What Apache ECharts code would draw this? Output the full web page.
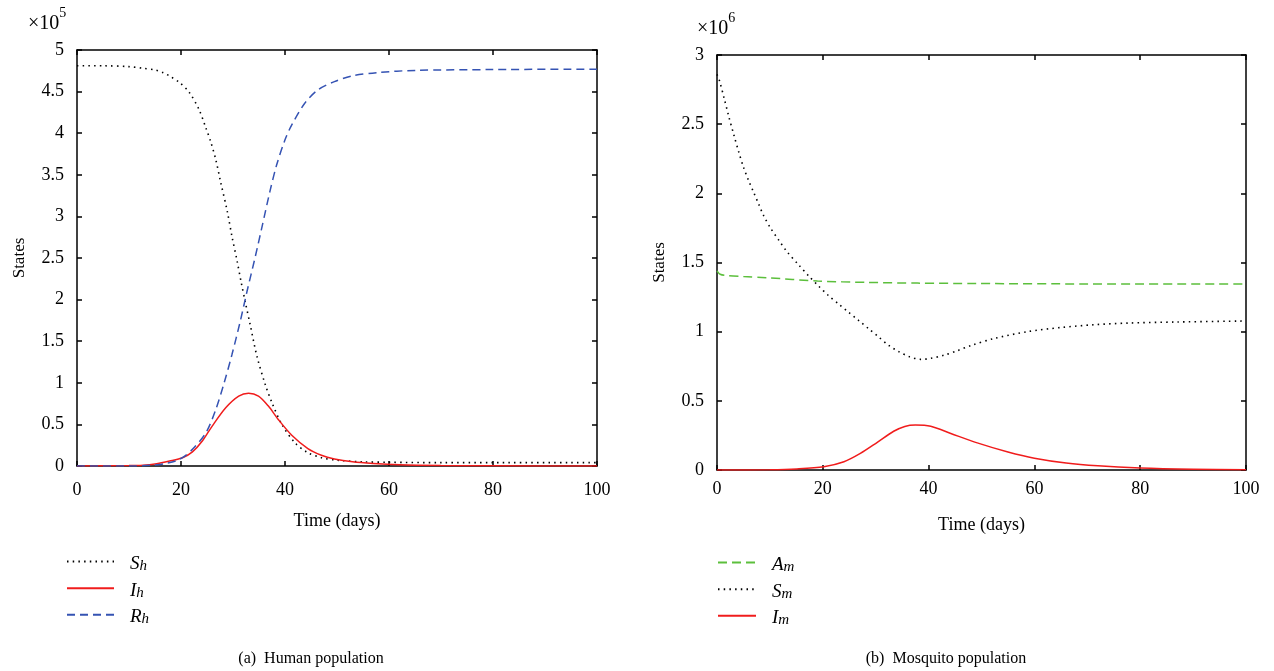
<!DOCTYPE html>
<html><head><meta charset="utf-8">
<script src="https://cdn.jsdelivr.net/npm/echarts@6/dist/echarts.min.js"></script>
<style>html,body{margin:0;padding:0;background:#fff}#c{width:1274px;height:671px}</style>
</head><body><div id="c"></div>
<script>
// Human population (units of 1e5), [time (days), value]
const Sh = [[0,4.81],[5,4.81],[10,4.8],[12.7,4.78],[15,4.76],[16.5,4.73],[18,4.68],[19.7,4.61],[21.6,4.49],[23.5,4.28],[24.8,4.06],[25.7,3.9],[26.7,3.68],[27.6,3.42],[28.9,3.06],[29.8,2.76],[30.8,2.46],[31.6,2.2],[32.4,1.96],[33.3,1.7],[34.6,1.32],[36.2,0.98],[37.5,0.76],[39.4,0.5],[41.9,0.28],[44.4,0.16],[47,0.1],[50,0.07],[55,0.05],[60,0.045],[70,0.04],[80,0.04],[100,0.04]];
const Ih = [[0,0],[10,0.005],[12.7,0.01],[15,0.025],[17.8,0.06],[20.3,0.1],[22.2,0.17],[24.1,0.3],[26,0.48],[28.6,0.7],[31.1,0.84],[33,0.875],[34.9,0.84],[36.8,0.72],[38.7,0.56],[41.3,0.37],[44.4,0.21],[47,0.13],[49.5,0.085],[53,0.05],[57,0.03],[62,0.015],[70,0.006],[80,0.002],[100,0]];
const Rh = [[0,0],[10,0],[14.6,0.01],[17,0.03],[19,0.06],[20.5,0.11],[22.2,0.2],[24.8,0.4],[26.7,0.68],[28.3,1.0],[29.8,1.34],[31.4,1.74],[32.7,2.1],[34.3,2.52],[35.6,2.88],[37.1,3.3],[38.4,3.62],[40,3.92],[41.3,4.1],[43.8,4.36],[46.3,4.52],[49.5,4.62],[53,4.69],[58,4.73],[65,4.755],[80,4.765],[100,4.77]];
// Mosquito population (units of 1e6)
const Am = [[0,1.44],[0.6,1.415],[1.9,1.405],[5,1.398],[9.5,1.39],[19,1.366],[28.4,1.356],[37.9,1.351],[49.2,1.348],[70,1.345],[100,1.344]];
const Sm = [[0,2.86],[0.5,2.81],[1.4,2.68],[2.2,2.56],[3.2,2.42],[4.1,2.3],[5,2.19],[6,2.09],[6.9,2.01],[7.9,1.92],[8.8,1.84],[10.1,1.75],[11.7,1.66],[13.2,1.58],[15.5,1.48],[17.4,1.4],[19.2,1.33],[21.1,1.26],[23,1.2],[24.9,1.14],[26.8,1.08],[28.7,1.02],[30.6,0.96],[32.5,0.9],[34.4,0.855],[36.3,0.82],[38.5,0.8],[40.4,0.807],[42.9,0.83],[45.4,0.862],[48,0.9],[52.3,0.95],[58.7,1.0],[65,1.03],[71.2,1.05],[77.6,1.062],[87,1.07],[100,1.077]];
const Im = [[0,0],[10,0.002],[15.1,0.008],[20.2,0.024],[24,0.06],[27.1,0.12],[30.3,0.2],[33.4,0.28],[35.5,0.315],[37.5,0.325],[40.4,0.316],[44.2,0.264],[49.2,0.196],[55,0.13],[60,0.085],[66,0.05],[72,0.03],[80,0.015],[90,0.006],[100,0.002]];
const xTicks = [0,20,40,60,80,100];
const legendLeft = ['Sh','Ih','Rh'];
const legendRight = ['Am','Sm','Im'];
const labelMap = {Sh:['S','h'],Ih:['I','h'],Rh:['R','h'],Am:['A','m'],Sm:['S','m'],Im:['I','m']};

const FONT = '"Liberation Serif", "DejaVu Serif", serif';
const chart = echarts.init(document.getElementById('c'), null, {renderer:'canvas'});

const RED = '#f01c1c', BLUE = '#3553b3', GREEN = '#5cbf3c', BLACK = '#000';
const dotted = [1.5, 4.2];
const dashed = [8, 5];

function xAx(grid, pos, showLabel, name, gap, margin) {
  return {
    type:'value', gridIndex:grid, position:pos, min:xTicks[0], max:xTicks[xTicks.length-1], interval:20,
    name: name || '', nameLocation:'middle', nameGap: gap || 0,
    nameTextStyle:{fontFamily:FONT, fontSize:18, color:'#000'},
    axisLine:{show:true, onZero:false, lineStyle:{color:'#000', width:1.5}},
    axisTick:{show:true, inside:true, length:5, lineStyle:{color:'#000', width:1.5}},
    axisLabel:{show:showLabel, margin:margin || 12, fontFamily:FONT, fontSize:18, color:'#000'},
    splitLine:{show:false}
  };
}
function yAx(grid, pos, showLabel, max, name, gap) {
  return {
    type:'value', gridIndex:grid, position:pos, min:0, max:max, interval:0.5,
    name: name || '', nameLocation:'middle', nameGap: gap || 0, nameRotate:90,
    nameTextStyle:{fontFamily:FONT, fontSize:17, color:'#000'},
    axisLine:{show:true, onZero:false, lineStyle:{color:'#000', width:1.5}},
    axisTick:{show:true, inside:true, length:5, lineStyle:{color:'#000', width:1.5}},
    axisLabel:{show:showLabel, margin:13, fontFamily:FONT, fontSize:18, color:'#000',
      formatter: v => String(Math.round(v*10)/10)},
    splitLine:{show:false}
  };
}
function ser(name, data, xi, yi, color, type, width) {
  return {name, type:'line', data, xAxisIndex:xi, yAxisIndex:yi, smooth:0.3,
    showSymbol:false, symbol:'none', animation:false,
    lineStyle:{color, type, width, cap:'butt'}, itemStyle:{color}};
}
const rich = {
  a:{fontFamily:FONT, fontStyle:'italic', fontSize:19, lineHeight:24, verticalAlign:'bottom', color:'#000'},
  b:{fontFamily:FONT, fontStyle:'italic', fontSize:15, lineHeight:8, verticalAlign:'bottom', color:'#000'}
};
function legend(names, left, top, w, pad) {
  return {data:names, left, top, orient:'vertical', itemGap:3, itemWidth:w, itemHeight:24,
    itemGap:5, itemStyle:{opacity:0},
    formatter: n => '{a|' + labelMap[n][0] + '}{b|' + labelMap[n][1] + '}',
    textStyle:{rich, padding:[0,0,0,pad]}, selectedMode:false};
}

const option = {
  backgroundColor:'#fff',
  animation:false,
  grid:[
    {left:77, top:50, width:520, height:416},
    {left:717, top:55, width:529, height:415}
  ],
  xAxis:[xAx(0,'bottom',true,'Time (days)',46,15), xAx(0,'top',false), xAx(1,'bottom',true,'Time (days)',46,10), xAx(1,'top',false)],
  yAxis:[yAx(0,'left',true,5,'States',49), yAx(0,'right',false,5), yAx(1,'left',true,3,'States',49), yAx(1,'right',false,3)],
  legend:[legend(legendLeft, 61, 547, 47, 11), legend(legendRight, 712, 548, 38, 11)],
  series:[
    ser('Sh', Sh, 0, 0, BLACK, dotted, 1.6),
    ser('Ih', Ih, 0, 0, RED, 'solid', 1.5),
    ser('Rh', Rh, 0, 0, BLUE, dashed, 1.5),
    ser('Am', Am, 2, 2, GREEN, [9,5], 1.5),
    ser('Sm', Sm, 2, 2, BLACK, dotted, 1.6),
    ser('Im', Im, 2, 2, RED, 'solid', 1.5)
  ],
  graphic:[
    {type:'text', left:28, top:6, style:{text:'{a|×10}{s|5}', rich:{
      a:{fontFamily:FONT, fontSize:20, lineHeight:28, verticalAlign:'bottom', fill:'#000'},
      s:{fontFamily:FONT, fontSize:14, lineHeight:16, verticalAlign:'top', fill:'#000'}}}},
    {type:'text', left:697, top:11, style:{text:'{a|×10}{s|6}', rich:{
      a:{fontFamily:FONT, fontSize:20, lineHeight:28, verticalAlign:'bottom', fill:'#000'},
      s:{fontFamily:FONT, fontSize:14, lineHeight:16, verticalAlign:'top', fill:'#000'}}}},
    {type:'text', x:311, y:651, style:{text:'(a)  Human population', fontFamily:FONT, fontSize:16, fill:'#000', align:'center'}},
    {type:'text', x:946, y:651, style:{text:'(b)  Mosquito population', fontFamily:FONT, fontSize:16, fill:'#000', align:'center'}}
  ]
};
chart.setOption(option);
</script></body></html>
